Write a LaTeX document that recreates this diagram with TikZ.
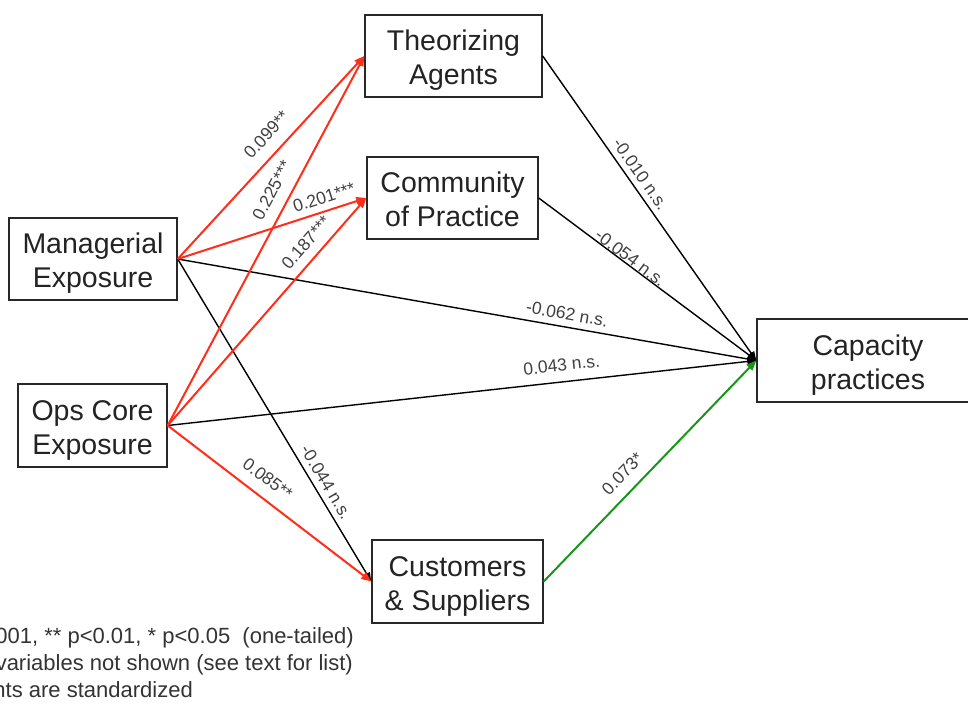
\documentclass[tikz,border=0pt]{standalone}
\usepackage{fontspec}
\setmainfont{Liberation Sans}
\usetikzlibrary{arrows.meta}
\definecolor{redline}{RGB}{255,45,25}
\definecolor{greenline}{RGB}{25,150,25}
\definecolor{boxline}{RGB}{40,40,40}
\definecolor{txt}{RGB}{35,35,35}
\newcommand\twolines[2]{\raisebox{-5pt}[\height][\depth]{\begin{tabular}{@{}c@{}}#1\\#2\end{tabular}}}
\begin{document}
\begin{tikzpicture}[x=1pt,y=-1pt,
  box/.style={draw=boxline, line width=1.4pt, inner sep=0pt,
    font=\fontsize{28.5}{34}\selectfont, text=txt},
  lbl/.style={sloped, font=\fontsize{17.5}{18}\selectfont, text=black!75, inner sep=0pt},
  blkarr/.style={draw=black, line width=1.4pt, -{Triangle[length=9pt,width=7pt]}},
  redarr/.style={draw=redline, line width=2pt, -{Triangle[length=10pt,width=8pt]}},
  grnarr/.style={draw=greenline, line width=2pt, -{Triangle[length=10pt,width=8pt]}},
  note/.style={anchor=base east, inner sep=0pt, font=\fontsize{22}{27}\selectfont, text=black!80}]
\useasboundingbox (0,0) rectangle (968,709);
\clip (0,0) rectangle (968,709);

% boxes
\node[box, minimum width=177pt, minimum height=82pt] (T) at (453.5,56) {\twolines{Theorizing}{Agents}};
\node[box, minimum width=171pt, minimum height=82pt] (C) at (452.5,198) {\twolines{Community}{of Practice}};
\node[box, minimum width=168pt, minimum height=82pt] (M) at (93,259) {\twolines{Managerial}{Exposure}};
\node[box, minimum width=149pt, minimum height=83pt] (O) at (92.5,425.5) {\twolines{Ops Core}{Exposure}};
\node[box, minimum width=222pt, minimum height=83pt] (P) at (868,360.5) {\twolines{Capacity}{practices}};
\node[box, minimum width=171pt, minimum height=83pt] (S) at (457.5,581.5) {\twolines{Customers}{\& Suppliers}};

% black connectors
\draw[blkarr] (T.east) -- node[lbl, pos=0.411, above=5.6pt] {-0.010 n.s.} (P.west);
\draw[blkarr] (C.east) -- node[lbl, pos=0.4025, above=0.2pt] {-0.054 n.s.} (P.west);
\draw[blkarr] (M.east) -- node[lbl, pos=0.669, above=6.4pt] {-0.062 n.s.} (P.west);
\draw[blkarr] (O.east) -- node[lbl, pos=0.6725, above=10.1pt] {0.043 n.s.} (P.west);
\draw[blkarr] (M.east) -- node[lbl, pos=0.712, above=5.6pt] {-0.044 n.s.} (S.west);

% red connectors
\draw[redarr] (M.east) -- node[lbl, pos=0.55, above=11.7pt] {0.099**} (T.west);
\draw[redarr] (O.east) -- node[lbl, pos=0.614, above=11.4pt] {0.225***} (T.west);
\draw[redarr] (M.east) -- node[lbl, pos=0.798, above=6.5pt] {0.201***} (C.west);
\draw[redarr] (O.east) -- node[lbl, pos=0.757, above=9pt] {0.187***} (C.west);
\draw[redarr] (O.east) -- node[lbl, pos=0.436, above=11.3pt] {0.085**} (S.west);

% green connector
\draw[grnarr] (S.east) -- node[lbl, pos=0.431, above=10.7pt] {0.073*} (P.west);

% notes
\node[note] (n1) at (354,643) {001, ** p<0.01, * p<0.05\ \ (one-tailed)};
\node[note] (n2) at (353,670) {variables not shown (see text for list)};
\node[note] (n3) at (193,697) {nts are standardized};
\end{tikzpicture}
\end{document}
